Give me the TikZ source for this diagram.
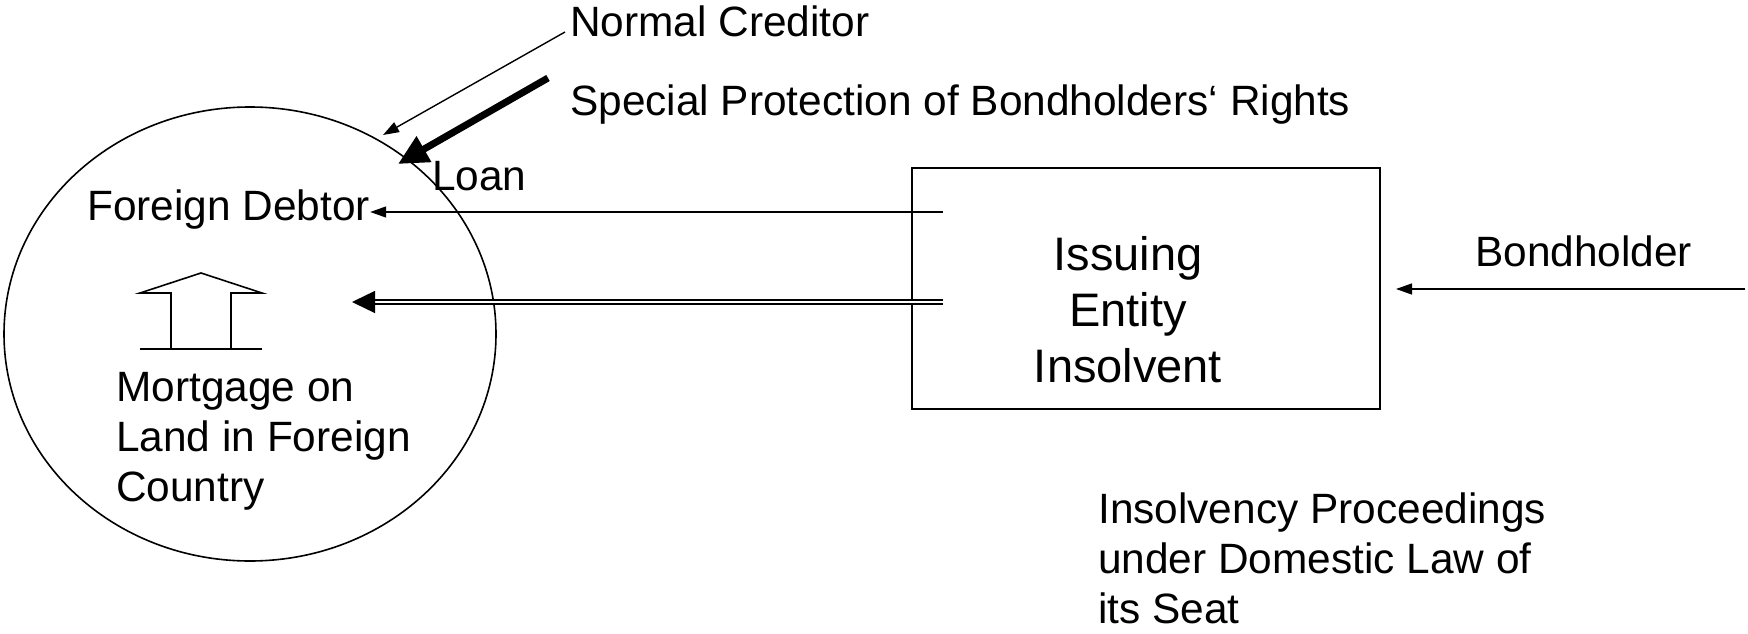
\documentclass[tikz,border=0pt]{standalone}
\usepackage{fontspec}
\setmainfont{Liberation Sans}
\usetikzlibrary{arrows.meta,shapes.geometric}
\begin{document}
\begin{tikzpicture}[x=1pt,y=-1pt,
  lbl/.style={font=\fontsize{42.4}{50}\selectfont, inner sep=0pt, align=left},
  big/.style={font=\fontsize{47}{56}\selectfont, inner sep=0pt, align=center},
  outline/.style={draw, line width=1.6pt},
  thinarrow/.style={line width=1.4pt, -{Triangle[length=16pt,width=11pt]}},
  thickarrow/.style={line width=7pt, -{Triangle[length=30pt,width=28pt]}},
]
\useasboundingbox (0,0) rectangle (1748,634);

% the foreign debtor's sphere and the issuing entity
\node[outline, ellipse, minimum width=492pt, minimum height=454pt, inner sep=0pt] (region) at (250,334) {};
\node[outline, rectangle, minimum width=468pt, minimum height=241pt, inner sep=0pt] (issuer) at (1146,288.5) {};

% labels
\node[lbl, anchor=base west] (ncred) at (570,37) {Normal Creditor};
\node[lbl, anchor=base west] (special) at (570,115) {Special Protection of Bondholders‘ Rights};
\node[lbl, anchor=base west] (loan) at (432,190) {Loan};
\node[lbl, anchor=base west] (fdebt) at (87,220) {Foreign Debtor};
\node[lbl, anchor=base west] (bholder) at (1475,266) {Bondholder};
\node[big, anchor=north] (issuertext) at (1128,236) {Issuing\\Entity\\Insolvent};
\node[lbl, anchor=north west] (mortgage) at (116,372) {Mortgage on\\Land in Foreign\\Country};
\node[lbl, anchor=north west] (proceed) at (1098,493) {Insolvency Proceedings\\under Domestic Law of\\its Seat};

% free ends of the connectors
\coordinate (ncFrom) at (565,32);
\coordinate (ncTo) at (383,135);
\coordinate (spFrom) at (548,78);
\coordinate (spTo) at (398,164);
\coordinate (fdFrom) at (943,212);
\coordinate (dblFrom) at (943,302);
\coordinate (dblTo) at (352,302);
\coordinate (bhFrom) at (1745,289);
\coordinate (bhTo) at (1396,289);

% connectors
\draw[thinarrow] (ncFrom) -- (ncTo);
\draw[thickarrow] (spFrom) -- (spTo);
\draw[thinarrow] (fdFrom) -- (fdFrom -| fdebt.east);
\draw[line width=1.4pt, double, double distance=2.6pt, shorten >=20pt] (dblFrom) -- (dblTo);
\draw[line width=1.4pt, -{Triangle[length=23pt,width=22pt]}] ([xshift=22pt]dblTo) -- (dblTo);
\draw[thinarrow] (bhFrom) -- (bhTo);

% mortgage symbol: an upward block arrow on a ground line
\draw[line width=1.6pt] (171,349) -- (171,293) -- (140,293) -- (201,273) -- (262,293) -- (231,293) -- (231,349);
\draw[line width=1.6pt] (140,349) -- (262,349);
\end{tikzpicture}
\end{document}
